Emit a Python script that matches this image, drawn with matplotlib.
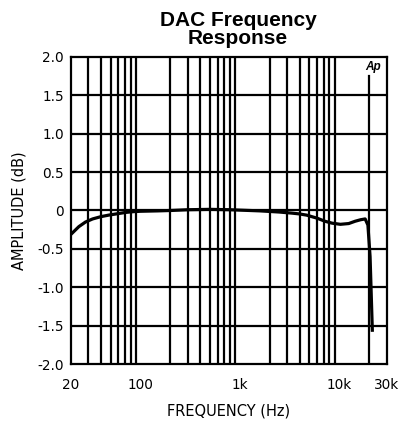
import matplotlib
matplotlib.use("Agg")
import matplotlib.pyplot as plt
from matplotlib.ticker import FixedLocator, NullLocator

# Data
freq_hz = [20, 24, 28, 33, 40, 48, 60, 71, 85, 100, 150, 200, 300, 500, 800,
           1000, 1600, 2500, 3400, 4000, 4700, 6000, 7200, 8500, 10300, 12500,
           14500, 16500, 18300, 19500, 20500, 21600]
amp_db = [-0.31, -0.21, -0.15, -0.11, -0.08, -0.06, -0.04, -0.025, -0.015, -0.01,
          -0.005, 0.0, 0.01, 0.015, 0.01, 0.005, -0.005, -0.02, -0.035, -0.045,
          -0.06, -0.1, -0.14, -0.165, -0.18, -0.17, -0.14, -0.12, -0.11, -0.19,
          -0.6, -1.56]

x_ticks = [20, 100, 1000, 10000, 30000]
x_tick_labels = ["20", "100", "1k", "10k", "30k"]
y_ticks = [2.0, 1.5, 1.0, 0.5, 0.0, -0.5, -1.0, -1.5, -2.0]
y_tick_labels = ["2.0", "1.5", "1.0", "0.5", "0", "-0.5", "-1.0", "-1.5", "-2.0"]
v_grid = [30, 40, 50, 60, 70, 80, 90, 200, 300, 400, 500, 600, 700, 800, 900,
          2000, 3000, 4000, 5000, 6000, 7000, 8000, 9000]

fig = plt.figure(figsize=(4.04, 4.23), dpi=100)
ax = fig.add_axes([71/404, 59/423, 315.5/404, 307/423])
ax.set_xscale("log")
ax.set_xlim(20, 30000)
ax.set_ylim(-2.0, 2.0)

lw = 1.6
for f in v_grid:
    ax.axvline(f, color="black", lw=lw, zorder=1)
ax.axvline(20000, ymin=0, ymax=(1.75 + 2) / 4, color="black", lw=lw, zorder=1)
for y in y_ticks[1:-1]:
    ax.axhline(y, color="black", lw=lw, zorder=1)

ax.plot(freq_hz, amp_db, color="black", lw=2.3, zorder=3, solid_joinstyle="round")

for s in ax.spines.values():
    s.set_linewidth(lw)

ax.xaxis.set_major_locator(FixedLocator(x_ticks))
ax.xaxis.set_minor_locator(NullLocator())
ax.set_xticklabels(x_tick_labels)
ax.set_yticks(y_ticks)
ax.set_yticklabels(y_tick_labels)
ax.tick_params(axis="both", which="both", length=0, labelsize=9.8)
ax.tick_params(axis="x", pad=10)
ax.tick_params(axis="y", pad=5)
for lab in ax.get_xticklabels() + ax.get_yticklabels():
    lab.set_family("DejaVu Sans")

ax.set_xlabel("FREQUENCY (Hz)", fontsize=10.5, family="DejaVu Sans", labelpad=8)
ax.set_ylabel("AMPLITUDE (dB)", fontsize=10.5, family="DejaVu Sans", labelpad=8)

fig.text(238/404, 1 - 11/423, "DAC Frequency\nResponse", ha="center", va="top",
         fontsize=15, fontweight="bold", family="Liberation Sans", linespacing=0.9)
ax.text(22200, 1.87, "Ap", ha="center", va="center", fontsize=8.5,
        fontweight="bold", fontstyle="italic", family="Liberation Sans", zorder=4)

fig.savefig("out.png", dpi=100)
